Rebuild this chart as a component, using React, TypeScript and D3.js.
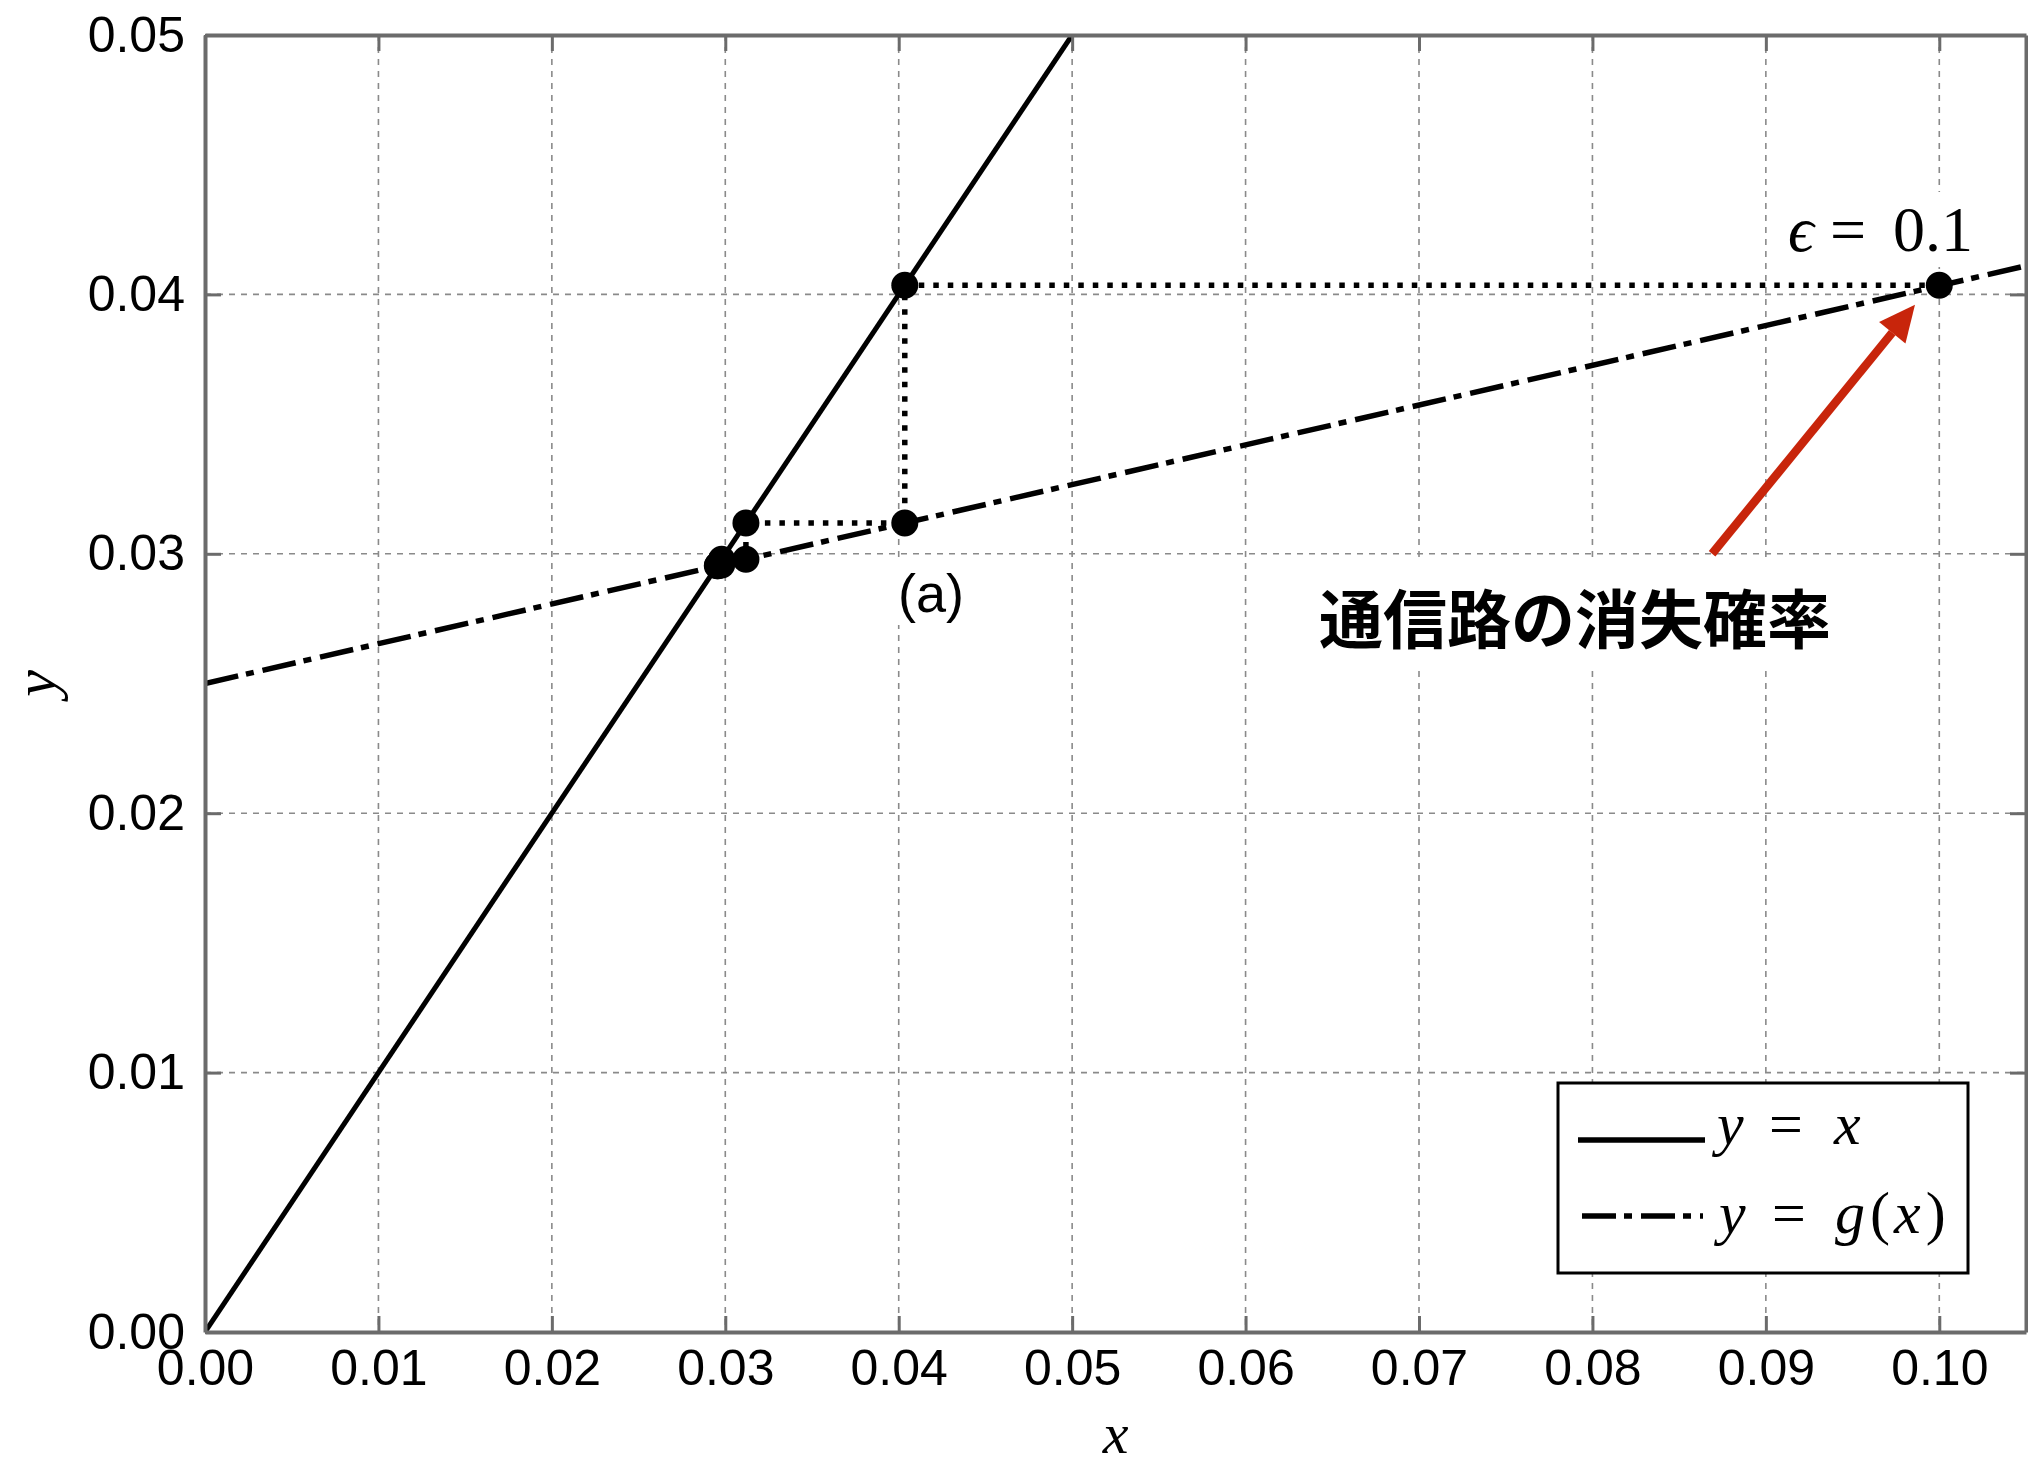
import React, { useEffect, useRef } from "react";
import * as d3 from "d3";

const W = 2028;
const H = 1467;

// axes
const xDomain = [0, 0.105];
const yDomain = [0, 0.05];
const xTicks = [0, 0.01, 0.02, 0.03, 0.04, 0.05, 0.06, 0.07, 0.08, 0.09, 0.1];
const yTicks = [0, 0.01, 0.02, 0.03, 0.04, 0.05];

// y = x
const idX = [0, 0.05];
const idY = [0, 0.05];

// y = g(x)
const gX = [0, 0.105];
const gY = [0.025, 0.0411];

// iteration starting at eps = 0.1 (staircase + dots)
const iterX = [0.1, 0.04035, 0.04035, 0.03119, 0.03119, 0.02979, 0.02979, 0.02957, 0.02957, 0.02954];
const iterY = [0.04035, 0.04035, 0.03119, 0.03119, 0.02979, 0.02979, 0.02957, 0.02957, 0.02954, 0.02954];

// red annotation arrow (data coords)
const arrowFrom = [0.0869, 0.03];
const arrowTo = [0.0986, 0.0396];

const SANS = "'Liberation Sans', Arial, Helvetica, sans-serif";
const SERIF = "'Liberation Serif', 'DejaVu Serif', serif";
const CJK = "'Noto Sans CJK JP', 'Noto Sans CJK SC', sans-serif";

export default function App() {
    const ref = useRef<SVGSVGElement>(null);

    useEffect(() => {
        const svg = d3.select(ref.current);
        svg.selectAll("*").remove();

        const left = 205, right = 2026, top = 35, bottom = 1332;
        const x = d3.scaleLinear().domain(xDomain).range([left, right]);
        const y = d3.scaleLinear().domain(yDomain).range([bottom, top]);

        svg.append("rect").attr("width", W).attr("height", H).attr("fill", "white");

        svg.append("clipPath").attr("id", "plotclip")
            .append("rect")
            .attr("x", left).attr("y", top)
            .attr("width", right - left).attr("height", bottom - top);

        // grid
        const grid = svg.append("g").attr("stroke", "#8a8a8a").attr("stroke-width", 1.6)
            .attr("stroke-dasharray", "6 6");
        grid.selectAll(".vg").data(xTicks).join("line").attr("class", "vg")
            .attr("x1", d => x(d)).attr("x2", d => x(d))
            .attr("y1", top).attr("y2", bottom);
        grid.selectAll(".hg").data(yTicks).join("line").attr("class", "hg")
            .attr("x1", left).attr("x2", right)
            .attr("y1", d => y(d)).attr("y2", d => y(d));

        const plot = svg.append("g").attr("clip-path", "url(#plotclip)");
        const line = d3.line<number>();

        // y = x
        plot.append("path")
            .attr("d", line(idX.map((v, i) => [x(v), y(idY[i])])))
            .attr("fill", "none").attr("stroke", "black").attr("stroke-width", 5);

        // y = g(x)
        plot.append("path")
            .attr("d", line(gX.map((v, i) => [x(v), y(gY[i])])))
            .attr("fill", "none").attr("stroke", "black").attr("stroke-width", 5.5)
            .attr("stroke-dasharray", "34 8 8 9");

        // staircase
        plot.append("path")
            .attr("d", line(iterX.map((v, i) => [x(v), y(iterY[i])])))
            .attr("fill", "none").attr("stroke", "black").attr("stroke-width", 5.5)
            .attr("stroke-dasharray", "5.5 9");

        // dots
        svg.selectAll(".dot").data(iterX).join("circle").attr("class", "dot")
            .attr("cx", d => x(d))
            .attr("cy", (d, i) => y(iterY[i]))
            .attr("r", 13.5)
            .attr("fill", "black");

        // helper: text with white box behind it
        const boxed = (g: any, pad: number) => {
            const bb = g.node().getBBox();
            g.insert("rect", ":first-child")
                .attr("x", bb.x - pad).attr("y", bb.y - pad / 2)
                .attr("width", bb.width + 2 * pad).attr("height", bb.height + pad)
                .attr("fill", "white");
        };

        // (a)
        const ga = svg.append("g");
        ga.append("text")
            .attr("x", 931).attr("y", 612)
            .attr("text-anchor", "middle")
            .style("font-family", SANS).style("font-size", "54px")
            .text("(a)");
        boxed(ga, 4);

        // epsilon label
        const ge = svg.append("g");
        const te = ge.append("text").attr("y", 251)
            .style("font-family", SERIF).style("font-size", "64px");
        te.append("tspan").attr("x", 1788).style("font-style", "italic").text("ϵ");
        te.append("tspan").attr("x", 1830).text("=");
        te.append("tspan").attr("x", 1893).text("0.1");
        boxed(ge, 4);

        // japanese label
        const gj = svg.append("g");
        gj.append("text")
            .attr("x", 1575).attr("y", 643)
            .attr("text-anchor", "middle")
            .style("font-family", CJK).style("font-weight", "bold").style("font-size", "64px")
            .text("通信路の消失確率");
        boxed(gj, 14);

        // arrow
        const ax0 = x(arrowFrom[0]), ay0 = y(arrowFrom[1]);
        const ax1 = x(arrowTo[0]), ay1 = y(arrowTo[1]);
        const ang = Math.atan2(ay1 - ay0, ax1 - ax0);
        const headLen = 36, headHalf = 17;
        const bx = ax1 - headLen * Math.cos(ang), by = ay1 - headLen * Math.sin(ang);
        svg.append("line")
            .attr("x1", ax0).attr("y1", ay0).attr("x2", bx).attr("y2", by)
            .attr("stroke", "#c8250b").attr("stroke-width", 8.5);
        svg.append("polygon")
            .attr("points", [
                [ax1, ay1],
                [bx + headHalf * Math.sin(ang), by - headHalf * Math.cos(ang)],
                [bx - headHalf * Math.sin(ang), by + headHalf * Math.cos(ang)],
            ].map(p => p.join(",")).join(" "))
            .attr("fill", "#c8250b");

        // axes (inward ticks on all four sides)
        const fmt = d3.format(".2f");
        const styleAxis = (g: any) => {
            g.select(".domain").attr("stroke", "#6b6b6b").attr("stroke-width", 4);
            g.selectAll(".tick line").attr("stroke", "#6b6b6b").attr("stroke-width", 3);
            g.selectAll(".tick text").attr("fill", "black")
                .style("font-family", SANS).style("font-size", "50px");
        };
        svg.append("g").attr("transform", `translate(0, ${bottom})`)
            .call(d3.axisBottom(x).tickValues(xTicks).tickFormat(fmt as any)
                .tickSizeInner(-16).tickSizeOuter(0).tickPadding(17))
            .call(styleAxis);
        svg.append("g").attr("transform", `translate(0, ${top})`)
            .call(d3.axisTop(x).tickValues(xTicks).tickFormat(() => "")
                .tickSizeInner(-16).tickSizeOuter(0))
            .call(styleAxis);
        svg.append("g").attr("transform", `translate(${left}, 0)`)
            .call(d3.axisLeft(y).tickValues(yTicks).tickFormat(fmt as any)
                .tickSizeInner(-16).tickSizeOuter(0).tickPadding(20))
            .call(styleAxis);
        svg.append("g").attr("transform", `translate(${right}, 0)`)
            .call(d3.axisRight(y).tickValues(yTicks).tickFormat(() => "")
                .tickSizeInner(-16).tickSizeOuter(0))
            .call(styleAxis);

        // axis labels
        svg.append("text")
            .attr("x", (left + right) / 2).attr("y", 1453)
            .attr("text-anchor", "middle")
            .style("font-family", SERIF).style("font-style", "italic").style("font-size", "58px")
            .text("x");
        svg.append("text")
            .attr("transform", `translate(55, ${(top + bottom) / 2}) rotate(-90)`)
            .attr("text-anchor", "middle")
            .style("font-family", SERIF).style("font-style", "italic").style("font-size", "60px")
            .text("y");

        // legend
        const lg = svg.append("g");
        lg.append("rect")
            .attr("x", 1558).attr("y", 1083).attr("width", 410).attr("height", 190)
            .attr("fill", "white").attr("stroke", "black").attr("stroke-width", 3);
        lg.append("line").attr("x1", 1578).attr("x2", 1705).attr("y1", 1140).attr("y2", 1140)
            .attr("stroke", "black").attr("stroke-width", 5.5);
        lg.append("line").attr("x1", 1582).attr("x2", 1703).attr("y1", 1216).attr("y2", 1216)
            .attr("stroke", "black").attr("stroke-width", 5.5).attr("stroke-dasharray", "34 8 8 9");
        const t1 = lg.append("text").attr("y", 1144)
            .style("font-family", SERIF).style("font-size", "60px");
        t1.append("tspan").attr("x", 1717).style("font-style", "italic").text("y");
        t1.append("tspan").attr("x", 1769).text("=");
        t1.append("tspan").attr("x", 1834).style("font-style", "italic").text("x");
        const t2 = lg.append("text").attr("y", 1233)
            .style("font-family", SERIF).style("font-size", "60px");
        t2.append("tspan").attr("x", 1719).style("font-style", "italic").text("y");
        t2.append("tspan").attr("x", 1772).text("=");
        t2.append("tspan").attr("x", 1835).style("font-style", "italic").text("g");
        t2.append("tspan").attr("dx", 5).text("(");
        t2.append("tspan").attr("dx", 4).style("font-style", "italic").text("x");
        t2.append("tspan").attr("dx", 5).text(")");
    }, []);

    return (
        <svg ref={ref} width={W} height={H}
            style={{ position: "absolute", left: 0, top: 0, display: "block" }} />
    );
}
